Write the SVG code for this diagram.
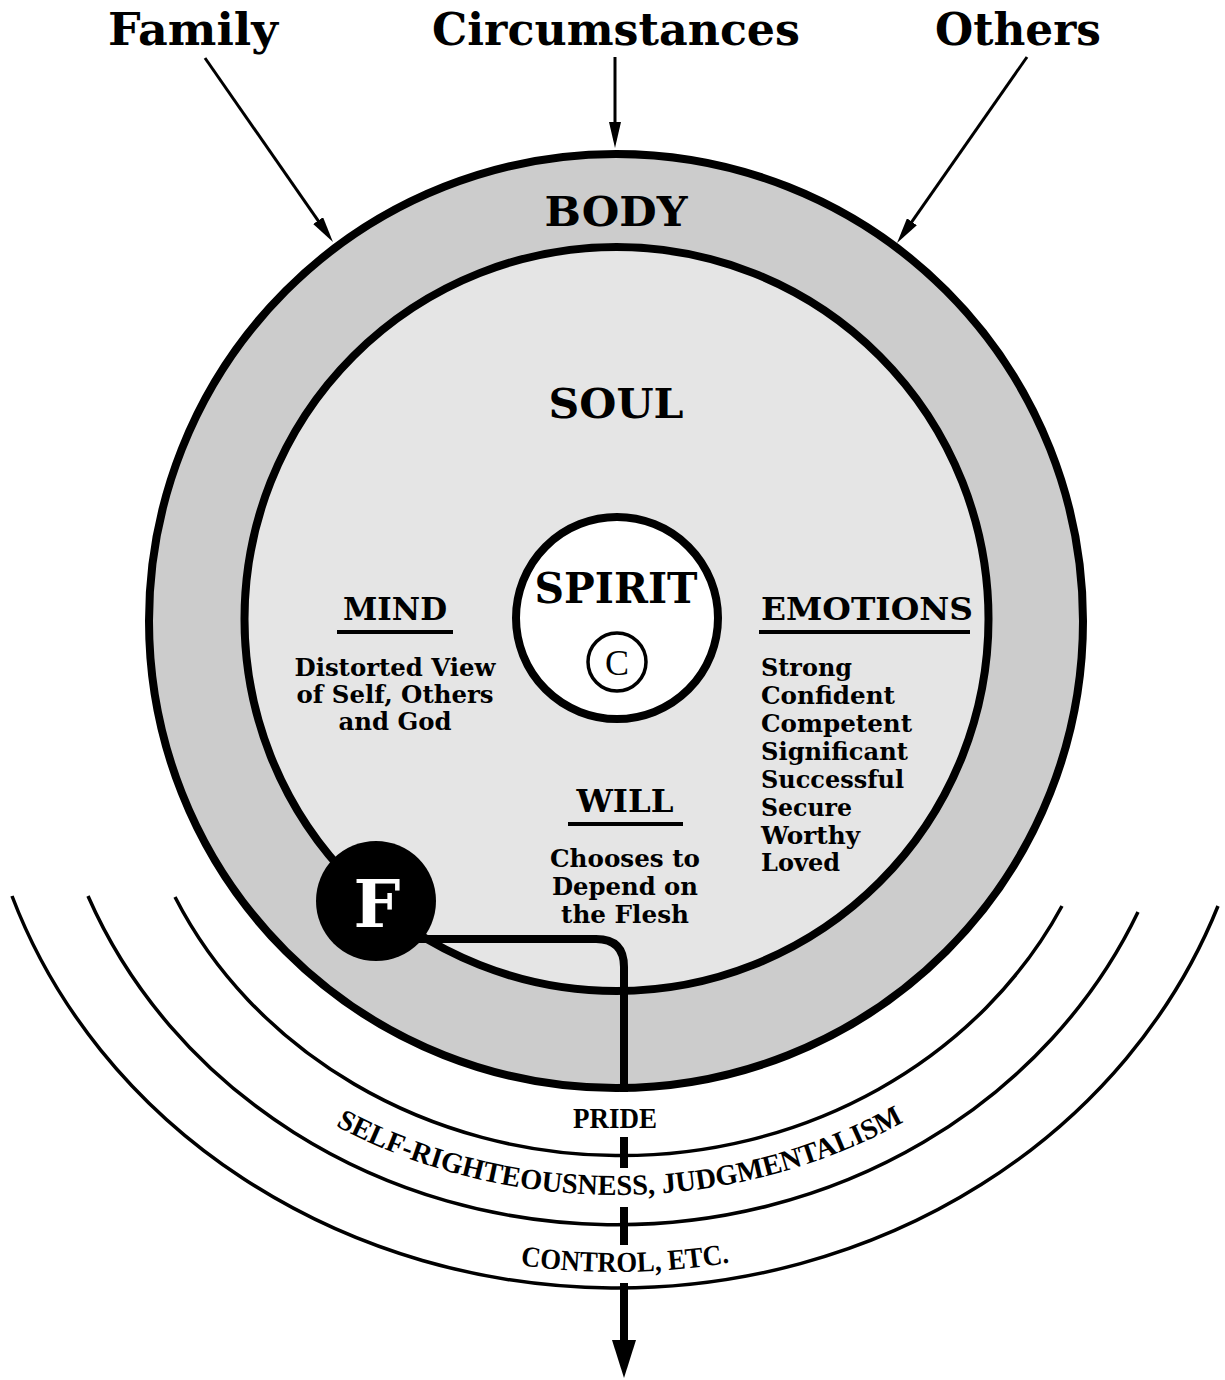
<svg xmlns="http://www.w3.org/2000/svg" width="1225" height="1380" viewBox="0 0 1225 1380">
<style>
.h{font-family:"DejaVu Serif","Liberation Serif",serif;font-weight:bold;fill:#000}
.b{font-family:"DejaVu Serif","Liberation Serif",serif;font-weight:bold;font-size:24px;fill:#000}
.arc{font-family:"Liberation Serif","DejaVu Serif",serif;font-weight:bold;font-size:29px;fill:#000}
.thin{fill:none;stroke:#000;stroke-width:3}
.thick{fill:none;stroke:#000;stroke-width:8}
.rim{fill:none;stroke:#000;stroke-width:3.5}
.ul{stroke:#000;stroke-width:4}
</style>
<defs>
<marker id="ah" markerUnits="userSpaceOnUse" markerWidth="26" markerHeight="12" refX="14" refY="6" orient="auto">
<path d="M0,0 L26,6 L0,12 z" fill="#000"/>
</marker>
<marker id="ahBig" markerUnits="userSpaceOnUse" markerWidth="38" markerHeight="24" refX="5" refY="12" orient="auto">
<path d="M0,0 L38,12 L0,24 z" fill="#000"/>
</marker>
<path id="tp1" d="M 227.1 1050 A 550 495 0 0 0 1004.9 1050"/>
<path id="tp2" d="M 303.5 1195.4 A 625 572 0 0 0 928.5 1195.4"/>
</defs>
<rect width="1225" height="1380" fill="#fff"/>

<g id="influences">
<text class="h" x="193" y="45" font-size="44" text-anchor="middle" textLength="170" lengthAdjust="spacingAndGlyphs">Family</text>
<text class="h" x="616" y="45" font-size="44" text-anchor="middle" textLength="368" lengthAdjust="spacingAndGlyphs">Circumstances</text>
<text class="h" x="1018" y="45" font-size="44" text-anchor="middle" textLength="166" lengthAdjust="spacingAndGlyphs">Others</text>
</g>

<g id="body">
<circle cx="616" cy="621" r="467" fill="#cccccc" stroke="#000" stroke-width="8"/>
<text class="h" x="616" y="226" font-size="41" text-anchor="middle" textLength="143" lengthAdjust="spacingAndGlyphs">BODY</text>
</g>

<g id="soul">
<circle cx="616.5" cy="619" r="372" fill="#e5e5e5" stroke="#000" stroke-width="8"/>
<text class="h" x="616" y="418" font-size="41" text-anchor="middle" textLength="135" lengthAdjust="spacingAndGlyphs">SOUL</text>
</g>

<g id="spirit">
<circle cx="617" cy="618" r="101" fill="#fff" stroke="#000" stroke-width="8"/>
<text class="h" x="616" y="603" font-size="43" text-anchor="middle" textLength="163" lengthAdjust="spacingAndGlyphs">SPIRIT</text>
<circle cx="617" cy="662" r="29" fill="none" stroke="#000" stroke-width="3.5"/>
<text x="617" y="675" font-family="Liberation Serif, serif" font-size="36" text-anchor="middle">C</text>
</g>

<g id="mind">
<text class="h" x="395" y="620" font-size="32" text-anchor="middle" textLength="104" lengthAdjust="spacingAndGlyphs">MIND</text>
<line class="ul" x1="337" y1="632" x2="453" y2="632"/>
<text class="b" x="395" y="676" text-anchor="middle" textLength="201" lengthAdjust="spacingAndGlyphs">Distorted View</text>
<text class="b" x="395" y="703" text-anchor="middle" textLength="197" lengthAdjust="spacingAndGlyphs">of Self, Others</text>
<text class="b" x="395" y="730" text-anchor="middle" textLength="113" lengthAdjust="spacingAndGlyphs">and God</text>
</g>

<g id="emotions">
<text class="h" x="761" y="620" font-size="32" textLength="212" lengthAdjust="spacingAndGlyphs">EMOTIONS</text>
<line class="ul" x1="759" y1="632" x2="970" y2="632"/>
<text class="b" x="761" y="676" textLength="91" lengthAdjust="spacingAndGlyphs">Strong</text>
<text class="b" x="761" y="704" textLength="134" lengthAdjust="spacingAndGlyphs">Confident</text>
<text class="b" x="761" y="732" textLength="151" lengthAdjust="spacingAndGlyphs">Competent</text>
<text class="b" x="761" y="760" textLength="147" lengthAdjust="spacingAndGlyphs">Significant</text>
<text class="b" x="761" y="788" textLength="143" lengthAdjust="spacingAndGlyphs">Successful</text>
<text class="b" x="761" y="816" textLength="91" lengthAdjust="spacingAndGlyphs">Secure</text>
<text class="b" x="761" y="844" textLength="99" lengthAdjust="spacingAndGlyphs">Worthy</text>
<text class="b" x="761" y="871" textLength="79" lengthAdjust="spacingAndGlyphs">Loved</text>
</g>

<g id="will">
<text class="h" x="625" y="812" font-size="32" text-anchor="middle" textLength="97" lengthAdjust="spacingAndGlyphs">WILL</text>
<line class="ul" x1="568" y1="824" x2="683" y2="824"/>
<text class="b" x="625" y="867" text-anchor="middle" textLength="150" lengthAdjust="spacingAndGlyphs">Chooses to</text>
<text class="b" x="625" y="895" text-anchor="middle" textLength="146" lengthAdjust="spacingAndGlyphs">Depend on</text>
<text class="b" x="625" y="923" text-anchor="middle" textLength="128" lengthAdjust="spacingAndGlyphs">the Flesh</text>
</g>

<g id="rings">
<path class="rim" d="M 175 897 A 492 448 0 0 0 1062 906"/>
<path class="rim" d="M 88 896 A 570 525 0 0 0 1138 912"/>
<path class="rim" d="M 12 896 A 640 582 0 0 0 1218 906"/>
</g>

<g id="behaviors">
<text class="arc" x="615" y="1128" text-anchor="middle" textLength="84" lengthAdjust="spacingAndGlyphs">PRIDE</text>
<text class="arc"><textPath href="#tp1" startOffset="50.5%" text-anchor="middle" textLength="592" lengthAdjust="spacingAndGlyphs">SELF-RIGHTEOUSNESS, JUDGMENTALISM</textPath></text>
<text class="arc"><textPath href="#tp2" startOffset="51.4%" text-anchor="middle" textLength="210" lengthAdjust="spacingAndGlyphs">CONTROL, ETC.</textPath></text>
</g>

<g id="connectors">
<line class="thin" x1="205" y1="58" x2="326.1" y2="232.1" marker-end="url(#ah)"/>
<line class="thin" x1="615" y1="57" x2="615" y2="136" marker-end="url(#ah)"/>
<line class="thin" x1="1027" y1="57" x2="903.9" y2="233.2" marker-end="url(#ah)"/>
<path class="thick" d="M 376 939 H 596 Q 624 939 624 967 V 1092"/>
<line class="thick" x1="624" y1="1137" x2="624" y2="1168"/>
<line class="thick" x1="624" y1="1207" x2="624" y2="1245"/>
<line class="thick" x1="624" y1="1283" x2="624" y2="1345" marker-end="url(#ahBig)"/>
</g>

<g id="flesh">
<circle cx="376" cy="901" r="60" fill="#000"/>
<text class="h" x="377" y="927" font-size="66" text-anchor="middle" style="fill:#fff">F</text>
</g>
</svg>
